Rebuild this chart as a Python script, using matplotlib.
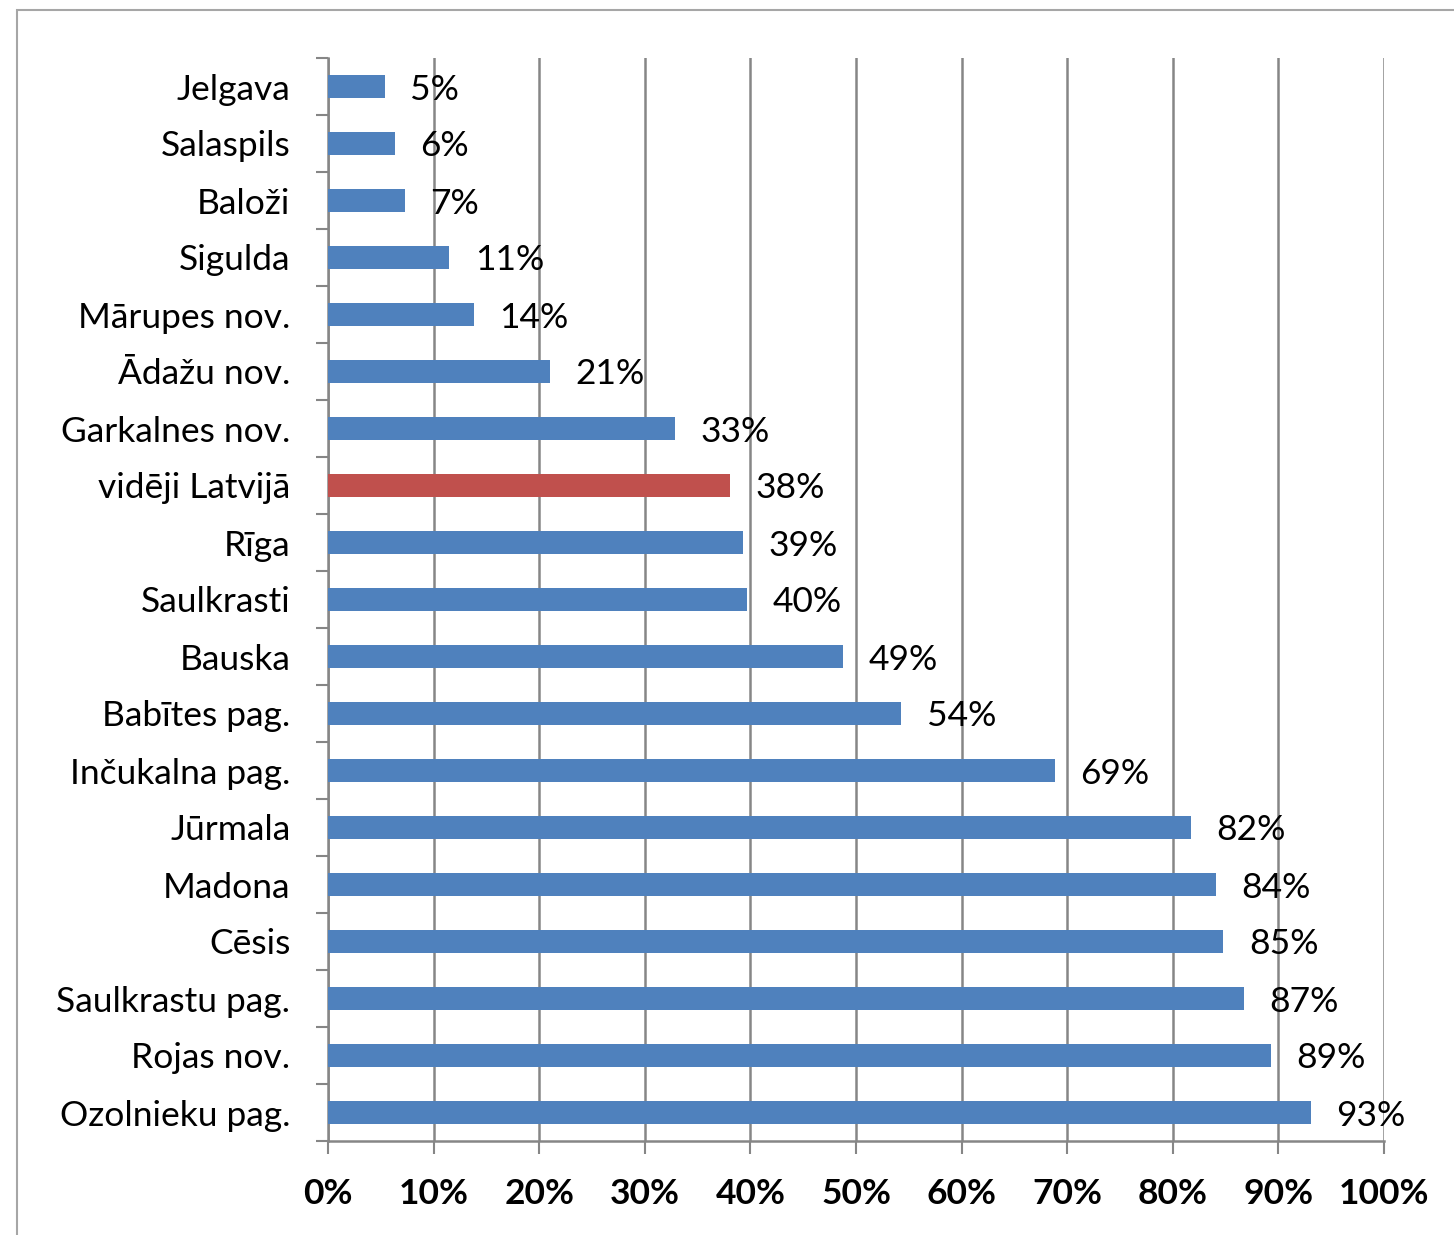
import numpy as np
import matplotlib.pyplot as plt
from matplotlib.patches import Rectangle

plt.rcParams['font.family'] = ['Lato', 'DejaVu Sans']

categories = ['Jelgava', 'Salaspils', 'Baloži', 'Sigulda', 'Mārupes nov.',
              'Ādažu nov.', 'Garkalnes nov.', 'vidēji Latvijā', 'Rīga',
              'Saulkrasti', 'Bauska', 'Babītes pag.', 'Inčukalna pag.',
              'Jūrmala', 'Madona', 'Cēsis', 'Saulkrastu pag.', 'Rojas nov.',
              'Ozolnieku pag.']
values = [5.4, 6.3, 7.3, 11.5, 13.8, 21.0, 32.9, 38.1, 39.3, 39.7, 48.8,
          54.3, 68.8, 81.7, 84.1, 84.8, 86.7, 89.3, 93.1]
labels = ['5%', '6%', '7%', '11%', '14%', '21%', '33%', '38%', '39%', '40%',
          '49%', '54%', '69%', '82%', '84%', '85%', '87%', '89%', '93%']
highlight = 'vidēji Latvijā'

blue = '#4F81BD'
red = '#C0504D'
gray = '#868686'
fs = 25.5

fig = plt.figure(figsize=(14.54, 12.35), dpi=100)
fig.add_artist(Rectangle((17 / 1454, -0.05), 1.2, 1 - 10 / 1235 + 0.05,
                         transform=fig.transFigure, fill=False,
                         edgecolor='#A6A6A6', lw=1.5))
ax = fig.add_axes([328 / 1454, 1 - 1141 / 1235, 1056 / 1454, 1083 / 1235])

y = np.arange(len(categories))
colors = [red if c == highlight else blue for c in categories]
ax.barh(y, values, height=0.4, color=colors, zorder=3)

for i, (v, lab) in enumerate(zip(values, labels)):
    ax.text(v + 2.4, i, lab, va='center_baseline', ha='left', fontsize=fs,
            zorder=4)

ax.set_xlim(0, 100)
ax.set_ylim(len(categories) - 0.5, -0.5)
ax.set_xticks(np.arange(0, 101, 10))
ax.set_xticklabels([f'{t}%' for t in range(0, 101, 10)],
                   fontsize=fs, fontweight='bold')
ax.set_yticks(y)
ax.set_yticklabels(categories, fontsize=fs)
ax.set_yticks(np.arange(-0.5, len(categories)), minor=True)

ax.tick_params(axis='y', which='major', length=0, pad=27)
ax.tick_params(axis='y', which='minor', length=9, width=1.5, color=gray,
               direction='out')
ax.tick_params(axis='x', which='major', length=9, width=1.5, color=gray,
               direction='out', pad=18)

ax.grid(True, axis='x', color=gray, lw=1.8, zorder=0)
for s in ['top', 'right']:
    ax.spines[s].set_visible(False)
for s in ['left', 'bottom']:
    ax.spines[s].set_color(gray)
    ax.spines[s].set_linewidth(1.8)

fig.savefig('out.png', dpi=100)
